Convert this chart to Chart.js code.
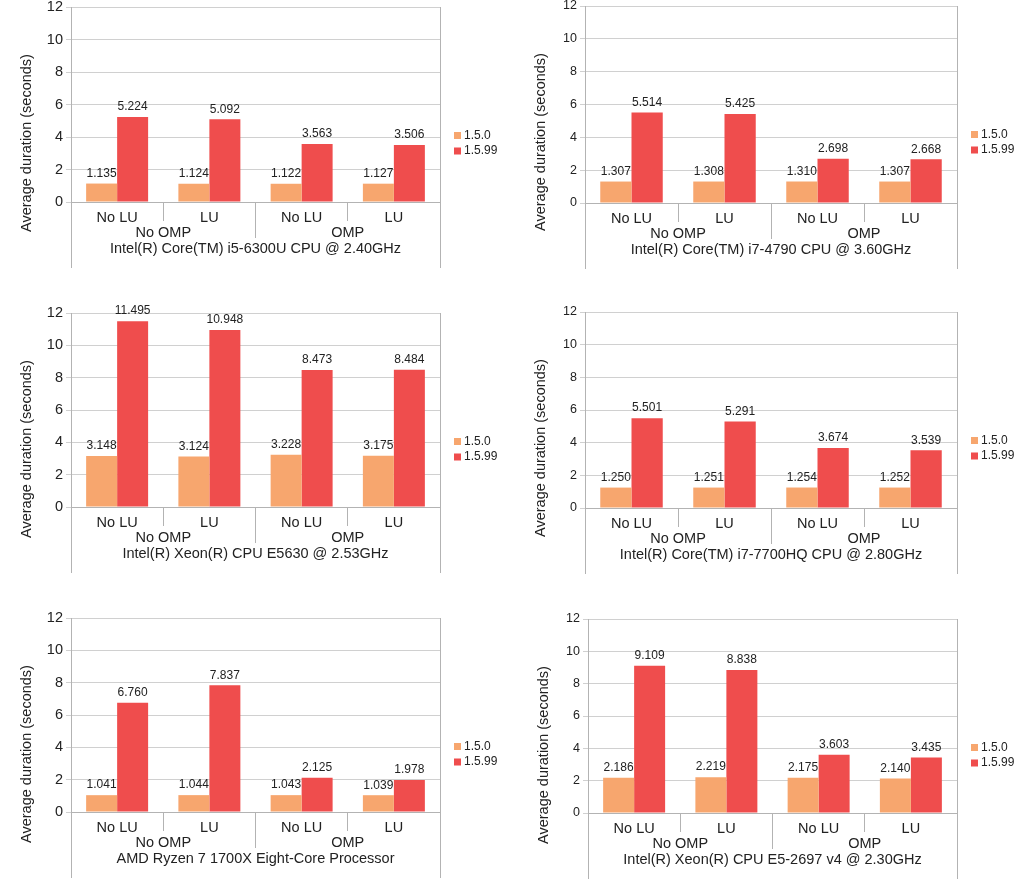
<!DOCTYPE html>
<html lang="en">
<head>
  <meta charset="UTF-8" />
  <title>Average duration per CPU</title>
  <style>
    body {
      margin: 0;
      background: #fff;
      width: 1024px;
      height: 896px;
      overflow: hidden;
      position: relative;
    }
    canvas {
      position: absolute;
    }
  </style>
</head>
<body>
  <script src="https://cdn.jsdelivr.net/npm/chart.js"></script>
  <script>
    // --- data ---
    const cpuNames = [
      'Intel(R) Core(TM) i5-6300U CPU @ 2.40GHz',
      'Intel(R) Core(TM) i7-4790 CPU @ 3.60GHz',
      'Intel(R) Xeon(R) CPU E5630 @ 2.53GHz',
      'Intel(R) Core(TM) i7-7700HQ CPU @ 2.80GHz',
      'AMD Ryzen 7 1700X Eight-Core Processor',
      'Intel(R) Xeon(R) CPU E5-2697 v4 @ 2.30GHz'
    ];
    const luLabels = ['No LU', 'LU', 'No LU', 'LU'];
    const ompGroups = ['No OMP', 'OMP'];
    const versions = ['1.5.0', '1.5.99'];
    const times150 = [
      [1.135, 1.124, 1.122, 1.127],
      [1.307, 1.308, 1.310, 1.307],
      [3.148, 3.124, 3.228, 3.175],
      [1.250, 1.251, 1.254, 1.252],
      [1.041, 1.044, 1.043, 1.039],
      [2.186, 2.219, 2.175, 2.140]
    ];
    const times1599 = [
      [5.224, 5.092, 3.563, 3.506],
      [5.514, 5.425, 2.698, 2.668],
      [11.495, 10.948, 8.473, 8.484],
      [5.501, 5.291, 3.674, 3.539],
      [6.760, 7.837, 2.125, 1.978],
      [9.109, 8.838, 3.603, 3.435]
    ];
    const yMax = 12;
    const yStep = 2;

    // --- layout: plot box of each panel [left, right, top, bottom] ---
    const panels = [
      [71, 440, 7, 202],
      [585, 957, 6, 203],
      [71, 440, 313, 507],
      [585, 957, 312, 508],
      [71, 440, 618, 812],
      [588, 957, 619, 813]
    ];
    const COLORS = ['#f7a66e', '#ef4d4d'];
    const FONT = '"Liberation Sans", Arial, sans-serif';
    const LINE = '#b3b3b3';

    Chart.defaults.font.family = FONT;
    Chart.defaults.color = '#333';

    function crisp(p) {
      return Math.round(p - 0.5) + 0.5;
    }

    const extras = {
      id: 'extras',
      afterDatasetsDraw(chart) {
        const ctx = chart.ctx;
        ctx.save();
        ctx.font = '12px ' + FONT;
        ctx.fillStyle = '#222';
        ctx.textAlign = 'center';
        ctx.textBaseline = 'middle';
        chart.data.datasets.forEach((ds, i) => {
          chart.getDatasetMeta(i).data.forEach((bar, j) => {
            ctx.fillText(ds.data[j].toFixed(3), bar.x, bar.y - 10);
          });
        });
        ctx.restore();
      },
      afterDraw(chart, args, opts) {
        const { ctx, chartArea: a, scales: { x } } = chart;
        ctx.save();
        ctx.strokeStyle = LINE;
        ctx.lineWidth = 1;
        const seg = (x1, y1, x2, y2) => {
          ctx.beginPath();
          ctx.moveTo(x1, y1);
          ctx.lineTo(x2, y2);
          ctx.stroke();
        };
        // box sides run down past the axis labels
        seg(crisp(a.left), a.top, crisp(a.left), a.bottom + 66);
        seg(crisp(a.right), a.top, crisp(a.right), a.bottom + 66);
        const mid = (x.getPixelForValue(1) + x.getPixelForValue(2)) / 2;
        seg(crisp(mid), a.bottom, crisp(mid), a.bottom + 36);

        ctx.fillStyle = '#222';
        ctx.textAlign = 'center';
        ctx.textBaseline = 'middle';
        ctx.font = '14.5px ' + FONT;
        const g0 = (x.getPixelForValue(0) + x.getPixelForValue(1)) / 2;
        const g1 = (x.getPixelForValue(2) + x.getPixelForValue(3)) / 2;
        ctx.fillText(ompGroups[0], g0, a.bottom + 30.5);
        ctx.fillText(ompGroups[1], g1, a.bottom + 30.5);
        ctx.fillText(opts.cpu, (a.left + a.right) / 2, a.bottom + 46.5);

        // y axis title
        ctx.save();
        ctx.translate(a.left - 44, a.top + 136);
        ctx.rotate(-Math.PI / 2);
        ctx.fillText('Average duration (seconds)', 0, 0);
        ctx.restore();

        // legend
        ctx.font = '12px ' + FONT;
        ctx.textAlign = 'left';
        chart.data.datasets.forEach((ds, i) => {
          const cy = a.top + 128.5 + i * 15.5;
          ctx.fillStyle = ds.backgroundColor;
          ctx.fillRect(a.right + 14, cy - 3.5, 7, 7);
          ctx.fillStyle = '#222';
          ctx.fillText(ds.label, a.right + 24, cy);
        });
        ctx.restore();
      }
    };

    panels.forEach((p, k) => {
      const [left, right, top, bottom] = p;
      const right_col = k % 2 === 1;
      const cLeft = right_col ? 512 : 0;
      const padTop = 25;
      const cTop = top - padTop;
      const cH = padTop + (bottom - top) + 75;

      const canvas = document.createElement('canvas');
      canvas.width = 512;
      canvas.height = cH;
      canvas.style.left = cLeft + 'px';
      canvas.style.top = cTop + 'px';
      document.body.appendChild(canvas);

      new Chart(canvas.getContext('2d'), {
        type: 'bar',
        data: {
          labels: luLabels,
          datasets: [
            { label: versions[0], data: times150[k], backgroundColor: COLORS[0] },
            { label: versions[1], data: times1599[k], backgroundColor: COLORS[1] }
          ]
        },
        options: {
          responsive: false,
          animation: false,
          devicePixelRatio: 1,
          categoryPercentage: 0.672,
          barPercentage: 1.0,
          layout: {
            padding: {
              top: padTop,
              left: left - cLeft - 40,
              right: cLeft + 512 - right,
              bottom: 5
            }
          },
          scales: {
            x: {
              offset: true,
              afterFit: s => { s.height = 70; },
              grid: {
                offset: true,
                drawOnChartArea: false,
                tickLength: 19,
                color: LINE
              },
              border: { color: LINE },
              ticks: {
                font: { size: 14.5 },
                color: '#222',
                padding: -12,
                maxRotation: 0,
                autoSkip: false
              }
            },
            y: {
              min: 0,
              max: yMax,
              afterFit: s => { s.width = 40; },
              grid: { color: '#d0d0d0', tickLength: 5 },
              border: { color: LINE },
              ticks: {
                stepSize: yStep,
                padding: 3,
                color: '#222',
                font: { size: right_col ? 12.5 : 14.5 }
              }
            }
          },
          plugins: {
            legend: { display: false },
            tooltip: { enabled: false },
            extras: { cpu: cpuNames[k] }
          }
        },
        plugins: [extras]
      });
    });
  </script>
</body>
</html>
